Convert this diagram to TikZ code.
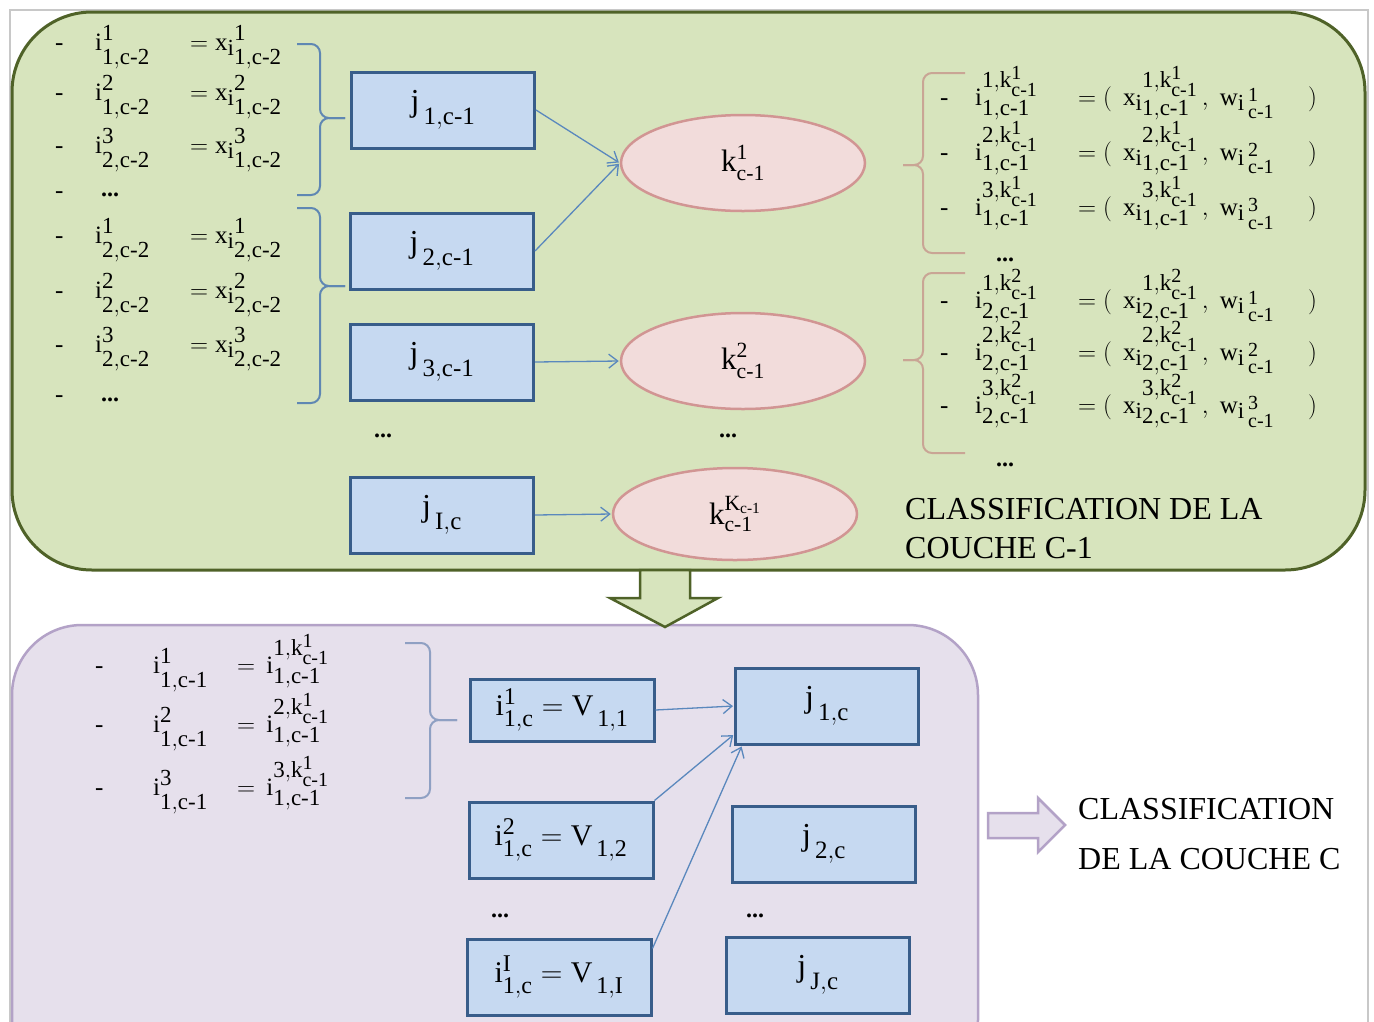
\RequirePackage{fix-cm}
\documentclass[tikz,border=0pt]{standalone}
\usepackage{amsmath}
\usepackage{fontspec}
\setmainfont{Liberation Serif}
\usetikzlibrary{arrows.meta,positioning,shapes.geometric}
\DeclareMathSizes{25}{25}{23}{20}
\DeclareMathSizes{32}{32}{25}{19}
\DeclareMathSizes{30}{30}{24}{18}
\newcommand{\cmone}{c\text{-}1}
\newcommand{\cmtwo}{c\text{-}2}
% deeper subscripts, as in the original slide
\newcommand{\deep}[1]{\fontdimen16\textfont2=#1\relax\fontdimen17\textfont2=#1\relax}
\newcommand{\low}[1]{\lower5pt\hbox{$\scriptstyle\mathrm{#1}$}}
\definecolor{greenfill}{HTML}{D7E4BD}
\definecolor{greenline}{HTML}{4F6228}
\definecolor{purplefill}{HTML}{E6E0EC}
\definecolor{purpleline}{HTML}{B3A2C7}
\definecolor{boxfill}{HTML}{C6D9F1}
\definecolor{boxline}{HTML}{385D8A}
\definecolor{ellfill}{HTML}{F2DCDB}
\definecolor{ellline}{HTML}{D19593}
\definecolor{linkcol}{HTML}{5A88BD}
\definecolor{bracel}{HTML}{5F87B3}
\definecolor{bracer}{HTML}{C9A595}
\definecolor{braceb}{HTML}{8FA0C3}
\definecolor{framecol}{HTML}{C8C8C8}

\begin{document}
\begin{tikzpicture}[x=1pt,y=-1pt,>={Straight Barb[length=9pt,width=14pt]},shorten >=1pt,
    jbox/.style={draw=boxline,fill=boxfill,line width=3pt,minimum width=183pt,minimum height=76pt,font=\fontsize{32}{36}\selectfont},
    ibox/.style={jbox,minimum width=184pt,font=\fontsize{30}{34}\selectfont},
    kell/.style={ellipse,draw=ellline,fill=ellfill,line width=2.5pt,minimum width=244pt,minimum height=96pt,font=\fontsize{31}{36}\selectfont},
    link/.style={linkcol,line width=1.3pt},
    eqlbl/.style={anchor=base west,inner sep=0pt,font=\fontsize{25}{30}\selectfont},
    dots/.style={inner sep=0pt,font=\fontsize{24}{28}\selectfont\bfseries},
    brace/.style={line width=2pt,rounded corners=9pt},
    title/.style={anchor=west,align=left,inner sep=0pt,font=\fontsize{32}{39}\selectfont}]
  \useasboundingbox (0,0) rectangle (1374,1021);
  \clip (0,0) rectangle (1374,1021);
  \fill[white] (0,0) rectangle (1374,1021);
  \draw[framecol,line width=1.5pt] (10,1040) -- (10,10) -- (1368,10) -- (1368,1040);

  % layer c-1
  \draw[greenline,fill=greenfill,line width=3pt,rounded corners=80pt] (12,12) rectangle (1365,570);

  \foreach \yy/\sp/\sa/\sb [count=\n] in {50/1/1/1,100/2/1/1,153/3/2/1,243/1/2/2,298/2/2/2,352/3/2/2}{
    \node[eqlbl] (ld\n) at (55,\yy) {-};
    \node[eqlbl] (ll\n) at (95,\yy) {$\deep{14pt}\mathrm{i^{\sp}_{\sa,\cmtwo}}$};
    \node[eqlbl] (lr\n) at (190,\yy) {$\deep{14pt}=\mathrm{x\low{i}{}^{\sp}_{\sb,\cmtwo}}$};
  }
  \node[eqlbl] (ld7) at (55,198) {-};
  \node[eqlbl] (ld8) at (55,402) {-};
  \node[dots] (d1) at (110,195) {...};
  \node[dots] (d2) at (110,400) {...};

  \foreach \ya/\yt/\yb in {44/118/195, 208/286/403}{
    \draw[bracel,brace] (297,\ya) -| (320,\yt) -- (346,\yt);
    \draw[bracel,brace] (297,\yb) -| (320,\yt) -- (346,\yt);
  }

  \node[jbox] (j1) at (443,110) {$\deep{13pt}\mathrm{j_{\,1,\cmone}}$};
  \node[jbox] (j2) at (442,251) {$\deep{13pt}\mathrm{j_{\,2,\cmone}}$};
  \node[jbox] (j3) at (442,362) {$\deep{13pt}\mathrm{j_{\,3,\cmone}}$};
  \node[dots] (d3) at (383,436) {...};
  \node[jbox] (jI) at (442,515) {$\deep{13pt}\mathrm{j_{\,I,c}}$};

  \node[kell] (k1) at (743,163) {$\deep{9pt}\mathrm{k^{1}_{\cmone}}$\hspace{20pt}};
  \node[kell] (k2) at (743,361) {$\deep{9pt}\mathrm{k^{2}_{\cmone}}$\hspace{20pt}};
  \node[dots] (d4) at (728,436) {...};
  \node[kell,minimum height=92pt] (kK) at (735,514) {$\deep{9pt}\mathrm{k^{K_{\cmone}}_{\cmone}}$\hspace{10pt}};

  \path[->,link]
    (j1.east) edge (k1.west)
    (j2.east) edge (k1.west)
    (j3.east) edge (k2.west)
    (jI.east) edge (kK.west)
  ;

  \foreach \ya/\yt/\yb in {73/165/253, 273/360/453}{
    \draw[bracer,brace] (965,\ya) -| (923,\yt) -- (902,\yt);
    \draw[bracer,brace] (965,\yb) -| (923,\yt) -- (902,\yt);
  }

  \foreach \yy/\ia/\kk/\ib [count=\n] in {105/1/1/1,160/2/1/1,215/3/1/1,308/1/2/2,360/2/2/2,413/3/2/2}{
    \node[eqlbl] (rd\n) at (940,\yy) {-};
    \node[eqlbl] (rl\n) at (975,\yy) {$\deep{14pt}\mathrm{i^{\ia,k^{\kk}_{\cmone}}_{\ib,\cmone}}$};
    \node[eqlbl] (rr\n) at (1078,\yy) {$\deep{14pt}=(\;\,\mathrm{x\low{i}{}^{\ia,k^{\kk}_{\cmone}}_{\ib,\cmone}\,,\;w\low{i\,{}^{\ia}_{\cmone}}}$};
    \node[eqlbl] (rp\n) at (1308,\yy) {$)$};
  }
  \node[dots] (d5) at (1005,260) {...};
  \node[dots] (d6) at (1005,465) {...};

  \node[title] (t1) at (905,529) {CLASSIFICATION DE LA\\COUCHE C-1};

  % layer c
  \draw[purpleline,fill=purplefill,line width=2.5pt,rounded corners=70pt] (12,625) rectangle (978,1090);
  \draw[greenline,fill=greenfill,line width=2.5pt,line join=miter]
    (640,570) -- (690,570) -- (690,598) -- (718,598) -- (665,627) -- (610,598) -- (640,598) -- cycle;

  \foreach \yy/\ia [count=\n] in {673/1,732/2,795/3}{
    \node[eqlbl] (bd\n) at (95,\yy) {-};
    \node[eqlbl] (bl\n) at (153,\yy) {$\deep{14pt}\mathrm{i^{\ia}_{1,\cmone}}$};
    \node[eqlbl] (br\n) at (237,\yy) {$\deep{14pt}=\,\mathrm{i^{\ia,k^{1}_{\cmone}}_{1,\cmone}}$};
  }
  \draw[braceb,brace] (405,643) -| (430,720) -- (458,720);
  \draw[braceb,brace] (405,798) -| (430,720) -- (458,720);

  \node[ibox,minimum height=62pt] (i1c) at (562,710) {$\deep{11pt}\mathrm{i^{1}_{1,c}=V_{\,1,1}}$\hspace{12pt}};
  \node[ibox] (i2c) at (561,840) {$\deep{11pt}\mathrm{i^{2}_{1,c}=V_{\,1,2}}$\hspace{12pt}};
  \node[dots] (d7) at (500,916) {...};
  \node[ibox] (iIc) at (559,977) {$\deep{11pt}\mathrm{i^{I}_{1,c}=V_{\,1,I}}$\hspace{12pt}};

  \node[jbox] (j1c) at (827,706) {$\deep{13pt}\mathrm{j_{\,1,c}}$};
  \node[jbox] (j2c) at (824,844) {$\deep{13pt}\mathrm{j_{\,2,c}}$};
  \node[dots] (d8) at (755,916) {...};
  \node[jbox] (jJc) at (818,975) {$\deep{13pt}\mathrm{j_{\,J,c}}$};

  \path[->,link]
    (i1c.east) edge (j1c.west)
    (i2c.north east) edge (j1c.197)
    (iIc.17) edge ([xshift=8pt]j1c.south west)
  ;

  \draw[purpleline,fill=purplefill,line width=2.5pt,line join=miter]
    (988,813) -- (1038,813) -- (1038,798) -- (1065,825) -- (1038,852) -- (1038,838) -- (988,838) -- cycle;
  \node[title,font=\fontsize{32}{50}\selectfont] (t2) at (1078,834) {CLASSIFICATION\\DE LA COUCHE C};
\end{tikzpicture}
\end{document}
